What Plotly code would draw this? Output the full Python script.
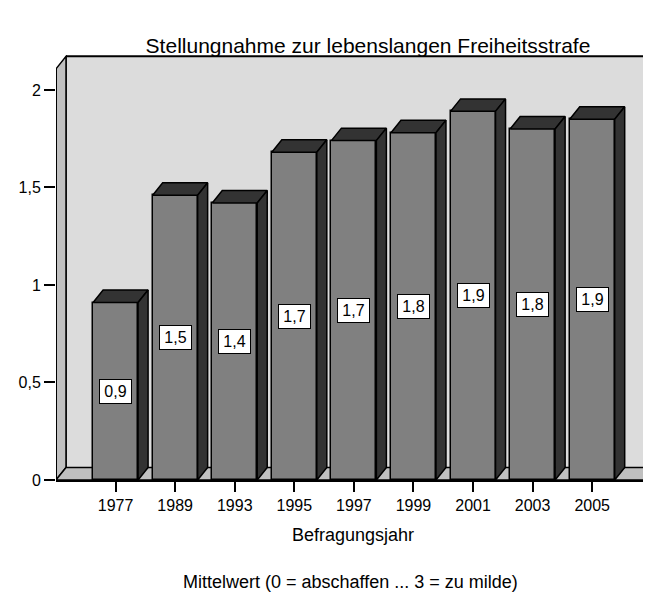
import plotly.graph_objects as go

# ---- data ----
years = ["1977", "1989", "1993", "1995", "1997", "1999", "2001", "2003", "2005"]
means = [0.91, 1.46, 1.42, 1.68, 1.74, 1.78, 1.89, 1.80, 1.85]
labels = ["0,9", "1,5", "1,4", "1,7", "1,7", "1,8", "1,9", "1,8", "1,9"]
y_ticks = [0, 0.5, 1, 1.5, 2]
y_ticktext = ["0", "0,5", "1", "1,5", "2"]

title_text = "Stellungnahme zur lebenslangen Freiheitsstrafe"
x_title = "Befragungsjahr"
y_title = "Mittelwert (0 = abschaffen ... 3 = zu milde)"

# ---- style / geometry ----
FONT = "Liberation Sans, Arial, sans-serif"
OFF = 8         # page body margin
W, H = 651 - OFF, 592 - OFF
BAR_W = 0.755
DX = 0.168      # depth offset in x (axis units)
DY = 0.064      # depth offset in y (axis units)
X0 = -1.0
X1 = 8.987
WALL_TOP = 2.108
Y1 = 2.179
FAR = 10.0

PL, PB, PT = 56 - OFF, 592 - 480, 55 - OFF
PW = W - PL
PH = H - PT - PB


def px_x(sx):
    return (sx - 56) / PW


def px_y(sy):
    return (480 - sy) / PH


xs = list(range(len(years)))

fig = go.Figure()

# front faces
fig.add_trace(go.Bar(
    x=xs, y=means, width=BAR_W,
    marker=dict(color="#808080", line=dict(color="black", width=1.5)),
    hoverinfo="skip", showlegend=False,
))

# tops and sides
top_x, top_y, side_x, side_y = [], [], [], []
for xi, v in zip(xs, means):
    l = xi - BAR_W / 2
    r = xi + BAR_W / 2
    top_x += [l, l + DX, r + DX, r, l, None]
    top_y += [v, v + DY, v + DY, v, v, None]
    side_x += [r, r, r + DX, r + DX, r, None]
    side_y += [0, v, v + DY, DY, 0, None]

for px, py in ((top_x, top_y), (side_x, side_y)):
    fig.add_trace(go.Scatter(
        x=px, y=py, mode="lines", fill="toself", fillcolor="#333333",
        line=dict(color="black", width=1.5), hoverinfo="skip",
        showlegend=False,
    ))

# value labels
for xi, v, t in zip(xs, means, labels):
    fig.add_annotation(
        x=xi, y=v / 2, xref="x", yref="y", text=t, showarrow=False,
        font=dict(family=FONT, size=16, color="black"),
        bgcolor="white", bordercolor="black", borderwidth=1,
        width=29, height=21, borderpad=1,
    )

# walls & floor
shapes = [
    dict(type="rect", xref="x", yref="y", x0=X0 + DX, x1=FAR, y0=DY, y1=WALL_TOP + DY,
         fillcolor="#dcdcdc", line=dict(width=0), layer="below"),
    dict(type="line", xref="x", yref="y", x0=X0 + DX, x1=FAR, y0=WALL_TOP + DY, y1=WALL_TOP + DY,
         line=dict(color="black", width=2), layer="below"),
    dict(type="line", xref="x", yref="y", x0=X0 + DX, x1=X0 + DX, y0=DY, y1=WALL_TOP + DY,
         line=dict(color="black", width=1.5), layer="below"),
    dict(type="path", xref="x", yref="y",
         path=f"M {X0},0 L {X0},{WALL_TOP} L {X0 + DX},{WALL_TOP + DY} L {X0 + DX},{DY} Z",
         fillcolor="#c0c0c0", line=dict(color="black", width=1.5), layer="below"),
    dict(type="path", xref="x", yref="y",
         path=f"M {X0},0 L {FAR},0 L {FAR},{DY} L {X0 + DX},{DY} Z",
         fillcolor="#c0c0c0", line=dict(color="black", width=1.5), layer="below"),
    dict(type="line", xref="x", yref="y", x0=X0, x1=X0, y0=0, y1=WALL_TOP,
         line=dict(color="black", width=2), layer="above"),
]

fig.update_layout(
    width=W, height=H,
    margin=dict(l=PL, r=0, t=PT, b=PB),
    paper_bgcolor="white", plot_bgcolor="white",
    font=dict(family=FONT, size=16, color="black"),
    shapes=shapes,
    title=dict(text=title_text, x=(368 - OFF) / W, xref="container", xanchor="center",
               y=1 - (46 - OFF) / H, yref="container", yanchor="middle",
               font=dict(family=FONT, size=21, color="black")),
    showlegend=False,
    bargap=0,
)

fig.update_xaxes(
    range=[X0, X1], tickvals=xs, ticktext=years, showgrid=False, zeroline=False,
    showline=True, linecolor="black", linewidth=2,
    ticks="outside", ticklen=10, tickwidth=1.5, tickcolor="black",
    tickfont=dict(family=FONT, size=16, color="black"), fixedrange=True,
)
fig.update_yaxes(
    range=[0, Y1], tickvals=y_ticks, ticktext=y_ticktext, showgrid=False, zeroline=False,
    showline=False, ticks="outside", ticklen=11, tickwidth=1.5, tickcolor="black",
    tickfont=dict(family=FONT, size=16, color="black"), fixedrange=True,
)

fig.add_annotation(text=x_title, xref="paper", yref="paper", x=px_x(353),
                   y=px_y(535), xanchor="center", yanchor="middle",
                   showarrow=False, font=dict(family=FONT, size=18, color="black"))
fig.add_annotation(text=y_title, xref="paper", yref="paper", x=px_x(350),
                   y=px_y(582), xanchor="center", yanchor="middle",
                   showarrow=False, font=dict(family=FONT, size=18, color="black"))

fig.write_html("out.html")
